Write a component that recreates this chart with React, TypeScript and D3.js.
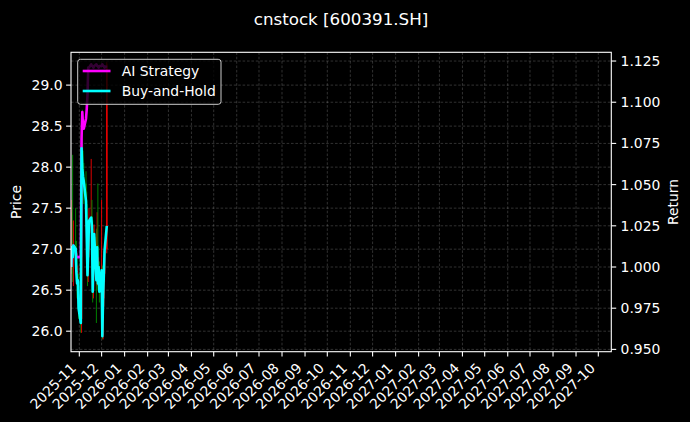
import * as d3 from "d3";
import { useEffect, useRef } from "react";

const dates = [
	"2025-10-21", "2025-10-22", "2025-10-23", "2025-10-24", "2025-10-27",
	"2025-10-28", "2025-10-29", "2025-10-30", "2025-10-31", "2025-11-03",
	"2025-11-04", "2025-11-05", "2025-11-06", "2025-11-07", "2025-11-10",
	"2025-11-11", "2025-11-12", "2025-11-13", "2025-11-14", "2025-11-17",
	"2025-11-18", "2025-11-19", "2025-11-20", "2025-11-21", "2025-11-24",
	"2025-11-25", "2025-11-26", "2025-11-27", "2025-11-28", "2025-12-01",
	"2025-12-02", "2025-12-03", "2025-12-04", "2025-12-05", "2025-12-08",
];
const openPrices = [
	26.95, 26.8, 27.05, 26.9, 27.1, 26.98, 26.7, 26.55, 26.6, 26.25,
	26.15, 28.3, 27.95, 27.85, 27.8, 27.55, 27.1, 26.7, 27.0, 27.35,
	27.4, 27.25, 26.5, 26.9, 27.15, 26.6, 27.05, 26.6, 26.75, 26.5,
	26.7, 25.95, 26.4, 26.7, 27.0,
];
const highPrices = [
	27.45, 27.6, 28.15, 27.35, 27.5, 27.1, 26.95, 26.8, 26.7, 26.4,
	28.45, 28.7, 28.2, 28.05, 27.95, 27.7, 27.25, 27.1, 27.5, 28.1,
	27.6, 27.35, 27.0, 27.3, 27.25, 27.45, 27.8, 26.9, 26.85, 27.6,
	26.8, 26.5, 26.75, 27.05, 29.28,
];
const lowPrices = [
	26.7, 26.75, 26.6, 26.55, 26.85, 26.6, 26.4, 26.45, 26.15, 25.98,
	25.98, 27.8, 27.6, 27.55, 27.4, 27.0, 26.55, 26.6, 26.9, 27.2,
	27.1, 26.35, 26.4, 26.8, 26.1, 26.55, 26.5, 26.5, 26.35, 26.45,
	25.9, 25.9, 26.3, 26.6, 26.95,
];
const closePrices = [
	26.78, 27.02, 26.9, 27.04, 27.0, 26.72, 26.58, 26.62, 26.28, 26.1,
	28.23, 27.99, 27.89, 27.83, 27.58, 27.14, 26.68, 26.98, 27.34, 27.38,
	27.28, 26.48, 26.88, 27.18, 26.62, 27.02, 26.58, 26.78, 26.48, 26.74,
	25.94, 26.42, 26.68, 26.98, 29.25,
];
const aiStrategy = [
	1.0, 1.012, 1.006, 1.013, 1.011, 1.006, 1.006, 1.006, 1.006, 1.006,
	1.078, 1.094, 1.086, 1.084, 1.09, 1.096, 1.104, 1.121, 1.121, 1.123,
	1.122, 1.122, 1.121, 1.122, 1.123, 1.122, 1.122, 1.121, 1.122, 1.122,
	1.123, 1.122, 1.122, 1.121, 1.122,
];
const buyAndHold = [
	1.0, 1.012, 1.006, 1.013, 1.011, 0.997, 0.99, 0.992, 0.975, 0.966,
	1.072, 1.06, 1.055, 1.052, 1.04, 1.018, 0.995, 1.01, 1.028, 1.03,
	1.025, 0.985, 1.005, 1.02, 0.992, 1.012, 0.99, 1.0, 0.985, 0.998,
	0.958, 0.982, 0.995, 1.01, 1.025,
];
const priceTicks = [26.0, 26.5, 27.0, 27.5, 28.0, 28.5, 29.0];
const returnTicks = [0.95, 0.975, 1.0, 1.025, 1.05, 1.075, 1.1, 1.125];
const seriesNames = ["AI Strategy", "Buy-and-Hold"];
const seriesColors = ["#ff00ff", "#00ffff"];

const W = 690;
const H = 422;
const FONT = "DejaVu Sans, sans-serif";

export default function App() {
	const ref = useRef<SVGSVGElement>(null);

	useEffect(() => {
		const svg = d3.select(ref.current);
		svg.selectAll("*").remove();

		const left = 71;
		const right = 611.3;
		const top = 52.3;
		const bottom = 351.7;

		const parse = d3.timeParse("%Y-%m-%d");
		const days = dates.map((d) => parse(d) as Date);

		const x = d3
			.scaleTime()
			.domain([new Date(2025, 9, 20, 19), new Date(2027, 9, 18, 12)])
			.range([left, right]);
		const yPrice = d3.scaleLinear().domain([25.75, 29.4]).range([bottom, top]);
		const yRet = d3
			.scaleLinear()
			.domain([0.9486, 1.1303])
			.range([bottom, top]);

		svg.append("rect").attr("width", W).attr("height", H).attr("fill", "black");

		svg.append("defs")
			.append("clipPath")
			.attr("id", "plot-clip")
			.append("rect")
			.attr("x", left)
			.attr("y", top)
			.attr("width", right - left)
			.attr("height", bottom - top);

		const monthTicks = x.ticks(d3.timeMonth.every(1) as d3.TimeInterval);

		// grid
		const grid = svg.append("g").attr("stroke", "#ffffff").attr("stroke-opacity", 0.28)
			.attr("stroke-width", 0.7).attr("stroke-dasharray", "2.6,1.8");
		monthTicks.forEach((t) => {
			grid.append("line").attr("x1", x(t)).attr("x2", x(t)).attr("y1", top).attr("y2", bottom);
		});
		priceTicks.forEach((t) => {
			grid.append("line").attr("x1", left).attr("x2", right).attr("y1", yPrice(t)).attr("y2", yPrice(t));
		});
		returnTicks.forEach((t) => {
			grid.append("line").attr("x1", left).attr("x2", right).attr("y1", yRet(t)).attr("y2", yRet(t));
		});

		const plot = svg.append("g").attr("clip-path", "url(#plot-clip)");

		// candles
		days.forEach((d, i) => {
			const up = closePrices[i] >= openPrices[i];
			const col = up ? "#e00000" : "#008000";
			const cx = x(d);
			plot.append("line")
				.attr("x1", cx).attr("x2", cx)
				.attr("y1", yPrice(highPrices[i])).attr("y2", yPrice(lowPrices[i]))
				.attr("stroke", col).attr("stroke-width", 1);
			const y0 = yPrice(Math.max(openPrices[i], closePrices[i]));
			const y1 = yPrice(Math.min(openPrices[i], closePrices[i]));
			plot.append("rect")
				.attr("x", cx - 0.8).attr("width", 1.6)
				.attr("y", y0).attr("height", Math.max(0.8, y1 - y0))
				.attr("fill", col);
		});

		const line = (vals: number[]) =>
			d3.line<Date>()
				.x((d) => x(d))
				.y((_, i) => yRet(vals[i]))(days);

		[aiStrategy, buyAndHold].forEach((vals, k) => {
			plot.append("path")
				.attr("d", line(vals))
				.attr("fill", "none")
				.attr("stroke", seriesColors[k])
				.attr("stroke-width", 2.6)
				.attr("stroke-linejoin", "round");
		});

		// spines
		svg.append("rect")
			.attr("x", left).attr("y", top)
			.attr("width", right - left).attr("height", bottom - top)
			.attr("fill", "none").attr("stroke", "white").attr("stroke-width", 1.1);

		const txt = svg.append("g").attr("fill", "white").attr("font-family", FONT).attr("font-size", 13.9);

		// left axis
		priceTicks.forEach((t) => {
			const yy = yPrice(t);
			svg.append("line").attr("x1", left - 4.9).attr("x2", left).attr("y1", yy).attr("y2", yy)
				.attr("stroke", "white").attr("stroke-width", 1.1);
			txt.append("text").attr("x", left - 8.5).attr("y", yy + 5).attr("text-anchor", "end")
				.text(d3.format(".1f")(t));
		});
		// right axis
		returnTicks.forEach((t) => {
			const yy = yRet(t);
			svg.append("line").attr("x1", right).attr("x2", right + 4.9).attr("y1", yy).attr("y2", yy)
				.attr("stroke", "white").attr("stroke-width", 1.1);
			txt.append("text").attr("x", right + 9.3).attr("y", yy + 5).attr("text-anchor", "start")
				.text(d3.format(".3f")(t));
		});
		// bottom axis
		const fmt = d3.timeFormat("%Y-%m");
		monthTicks.forEach((t) => {
			const xx = x(t);
			svg.append("line").attr("x1", xx).attr("x2", xx).attr("y1", bottom).attr("y2", bottom + 4.9)
				.attr("stroke", "white").attr("stroke-width", 1.1);
			const ax = xx - 2.2;
			const ay = 369;
			txt.append("text").attr("x", ax).attr("y", ay).attr("text-anchor", "end")
				.attr("transform", `rotate(-45,${ax},${ay})`).text(fmt(t));
		});

		// axis labels
		txt.append("text").attr("transform", `translate(21,${(top + bottom) / 2}) rotate(-90)`)
			.attr("text-anchor", "middle").text("Price");
		txt.append("text").attr("transform", `translate(678,${(top + bottom) / 2}) rotate(-90)`)
			.attr("text-anchor", "middle").text("Return");

		// title
		svg.append("text").attr("x", 341).attr("y", 25).attr("text-anchor", "middle")
			.attr("fill", "white").attr("font-family", FONT).attr("font-size", 16.7)
			.text("cnstock [600391.SH]");

		// legend
		const lg = svg.append("g");
		lg.append("rect")
			.attr("x", 77.7).attr("y", 59.3).attr("width", 143.3).attr("height", 45)
			.attr("rx", 2.8).attr("fill", "black").attr("fill-opacity", 0.8)
			.attr("stroke", "#cccccc").attr("stroke-width", 1);
		seriesNames.forEach((name, k) => {
			const yy = 71 + k * 20;
			lg.append("line").attr("x1", 82.7).attr("x2", 110.5).attr("y1", yy).attr("y2", yy)
				.attr("stroke", seriesColors[k]).attr("stroke-width", 2.6);
			lg.append("text").attr("x", 121.7).attr("y", yy + 5).attr("fill", "white")
				.attr("font-family", FONT).attr("font-size", 13.9).text(name);
		});
	}, []);

	return (
		<svg
			ref={ref}
			width={W}
			height={H}
			style={{ position: "absolute", left: 0, top: 0, display: "block" }}
		/>
	);
}
